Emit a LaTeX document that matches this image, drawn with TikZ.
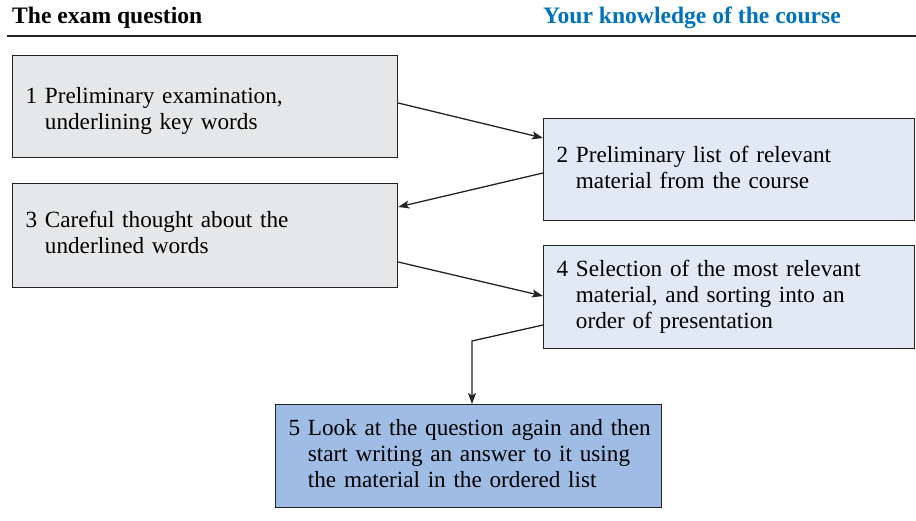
\documentclass[tikz,border=0pt]{standalone}
\usepackage{fontspec}
\setmainfont{Liberation Serif}
\usetikzlibrary{arrows.meta,calc}
\definecolor{boxgray}{RGB}{230,231,232}
\definecolor{boxblue}{RGB}{225,233,245}
\definecolor{boxdeep}{RGB}{159,189,228}
\definecolor{headblue}{RGB}{0,114,188}
\definecolor{edge}{RGB}{38,34,35}
\begin{document}
\begin{tikzpicture}[x=1pt,y=-1pt,
  box/.style={draw=edge, line width=1.2pt, anchor=north west, inner xsep=13pt, inner ysep=0pt,
    align=left, font=\fontsize{23.2}{26}\selectfont},
  conn/.style={draw=edge, line width=1.3pt, -{Stealth[length=11pt,width=8pt,inset=2.5pt]}},
  head/.style={anchor=base west, inner sep=0pt, font=\fontsize{23.6}{26}\selectfont\bfseries}]
\useasboundingbox (0,0) rectangle (916,521);
\node[head] (h1) at (12,24) {The exam question};
\node[head, text=headblue] (h2) at (543,24) {Your knowledge of the course};
\draw[edge, line width=1.8pt] (7,36) -- (916,36);
\node[box, fill=boxgray, text width=359pt, minimum height=102pt] (b1) at (12,55)
  {\raisebox{-5pt}[\height][\depth]{\begin{tabular}{@{}l@{\ }l@{}}1 & Preliminary examination,\\ & underlining key words\end{tabular}}};
\node[box, fill=boxblue, text width=345pt, minimum height=102pt] (b2) at (543,118)
  {\raisebox{-1pt}[\height][\depth]{\begin{tabular}{@{}l@{\ }l@{}}2 & Preliminary list of relevant\\ & material from the course\end{tabular}}};
\node[box, fill=boxgray, text width=359pt, minimum height=104pt] (b3) at (12,183)
  {\begin{tabular}{@{}l@{\ }l@{}}3 & Careful thought about the\\ & underlined words\end{tabular}};
\node[box, fill=boxblue, text width=345pt, minimum height=103pt] (b4) at (543,245)
  {\begin{tabular}{@{}l@{\ }l@{}}4 & Selection of the most relevant\\ & material, and sorting into an\\ & order of presentation\end{tabular}};
\node[box, fill=boxdeep, text width=360pt, minimum height=103pt] (b5) at (275,404)
  {\begin{tabular}{@{}l@{\ }l@{}}5 & Look at the question again and then\\ & start writing an answer to it using\\ & the material in the ordered list\end{tabular}};
\coordinate (c45) at (472,341);
\draw[conn] ($(b1.north east)+(0,48)$) -- ($(b2.north west)+(0,20)$);
\draw[conn] ($(b2.north west)+(0,55)$) -- ($(b3.north east)+(0,24)$);
\draw[conn] ($(b3.north east)+(0,79)$) -- ($(b4.north west)+(0,51)$);
\draw[conn] ($(b4.north west)+(0,80)$) -- (c45) -- (c45 |- b5.north);
\end{tikzpicture}
\end{document}
